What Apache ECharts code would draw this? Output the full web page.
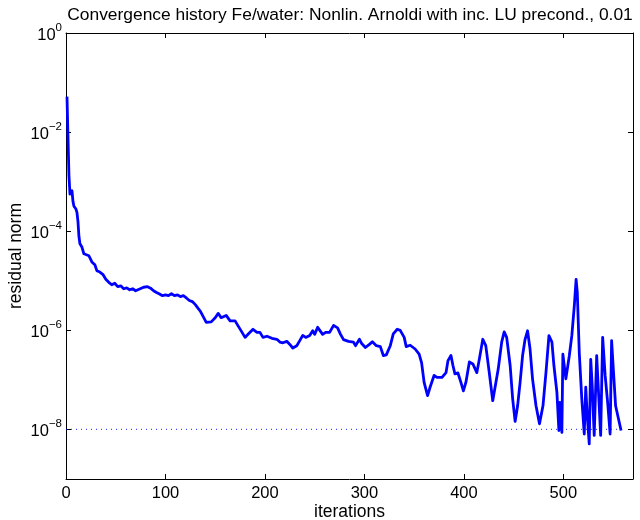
<!DOCTYPE html>
<html>
<head>
<meta charset="utf-8">
<script src="https://cdn.jsdelivr.net/npm/echarts@6/dist/echarts.min.js"></script>
<style>
  html, body { margin: 0; padding: 0; background: #ffffff; }
  #chart { width: 640px; height: 520px; }
</style>
</head>
<body>
<div id="chart"></div>
<script>
// ---- data ----
const chartTitle = 'Convergence history Fe/water: Nonlin. Arnoldi with inc. LU precond., 0.01';
const xAxisName = 'iterations';
const yAxisName = 'residual norm';
const xTickValues = [0, 100, 200, 300, 400, 500];

const iterations = [
  1, 2, 3, 4, 5, 6, 7, 8, 10, 11, 12, 13, 14, 16, 18, 20, 23, 26, 29, 31, 34, 37, 40,
  43, 46, 49, 52, 55, 58, 61, 64, 67, 70, 74, 78, 82, 85, 88, 91, 94, 97, 100,
  103, 106, 109, 112, 115, 118, 121, 124, 127, 130, 133, 135,
  141, 146, 150, 153, 156, 161, 165, 170, 173, 177, 180, 183, 188, 192, 195, 198,
  202, 207, 212, 215, 218, 222, 225, 228, 232, 235, 238, 241, 245, 248, 250, 253,
  255, 258, 261, 265, 269, 273, 276, 279, 284, 289, 291, 295, 297, 301, 305, 308,
  312, 316, 319, 322, 326, 329, 333, 336, 340, 342, 346, 351, 355, 357.5, 360,
  363.5, 366, 370, 373, 378, 382, 384, 387, 389, 391, 394, 397, 399.5, 402, 405.5,
  409, 413, 415.5, 419, 422, 425.5, 429, 431, 434.5, 438, 440.5, 443, 446.5, 449,
  451.5, 454, 456.5, 459, 461.5, 464, 466.5, 469, 472.5, 476, 479.5, 482.5, 485.5,
  488.5, 490.5, 493.5, 495.5, 496.5, 498.5, 499.5, 501, 502.5, 504.5, 506, 508.5,
  511, 512.8, 514, 516, 518.5, 521, 522.5, 524, 526, 527.5, 529, 531, 533.5, 536,
  537.5, 539.5, 542, 544.5, 547, 548.5, 550.5, 552.5, 554.5, 558
];

const residualNorm = [
  5.2e-2, 7.9e-3, 1.3e-3, 5.6e-4, 5.2e-4, 6.6e-4, 4.0e-4, 3.2e-4, 2.8e-4, 2.4e-4, 1.6e-4, 7.9e-5, 5.6e-5, 4.8e-5, 3.5e-5, 3.2e-5, 3.2e-5, 2.4e-5, 2.1e-5, 1.6e-5, 1.5e-5, 1.35e-5, 1.07e-5,
  9.3e-6, 8.3e-6, 8.9e-6, 7.6e-6, 7.9e-6, 6.9e-6, 7.2e-6, 6.6e-6, 6.9e-6, 6.3e-6, 6.8e-6, 7.4e-6, 7.6e-6, 7.1e-6, 6.3e-6, 5.8e-6, 5.4e-6, 5.0e-6, 5.2e-6,
  5.0e-6, 5.5e-6, 5.0e-6, 5.2e-6, 4.8e-6, 5.0e-6, 4.5e-6, 4.0e-6, 3.8e-6, 3.3e-6, 2.75e-6, 2.45e-6,
  1.45e-6, 1.48e-6, 1.8e-6, 2.2e-6, 1.8e-6, 2.0e-6, 1.55e-6, 1.55e-6, 1.23e-6, 9.1e-7, 7.2e-7, 8.3e-7, 1.05e-6, 9.1e-7, 9.1e-7, 7.2e-7,
  7.6e-7, 6.9e-7, 6.6e-7, 5.8e-7, 5.6e-7, 6.0e-7, 5.2e-7, 4.4e-7, 4.9e-7, 6.2e-7, 7.9e-7, 7.2e-7, 7.9e-7, 9.8e-7, 8.3e-7, 1.15e-6,
  1.15e-6, 8.3e-7, 9.1e-7, 9.1e-7, 1.26e-6, 1.12e-6, 8.3e-7, 6.5e-7, 6.0e-7, 5.8e-7, 4.9e-7, 6.6e-7, 5.5e-7, 4.5e-7, 5.2e-7, 5.9e-7,
  4.9e-7, 4.7e-7, 3.1e-7, 3.2e-7, 4.9e-7, 8.5e-7, 1.05e-6, 1.0e-6, 7.2e-7, 4.7e-7, 5.0e-7, 4.2e-7, 3.3e-7, 2.2e-7, 8.9e-8,
  4.8e-8, 7.1e-8, 1.23e-7, 1.12e-7, 1.12e-7, 1.4e-7, 2.45e-7, 3.1e-7, 1.95e-7, 1.32e-7, 1.38e-7, 8.9e-8, 6.0e-8, 8.9e-8, 2.3e-7,
  2.1e-7, 1.4e-7, 2.6e-7, 6.6e-7, 4.9e-7, 1.4e-7, 3.8e-8, 4.0e-8, 1.65e-7, 5.8e-7, 9.3e-7, 7.2e-7, 1.95e-7, 4.2e-8,
  1.45e-8, 3.0e-8, 8.9e-8, 3.1e-7, 6.6e-7, 9.8e-7, 4.2e-7, 1.05e-7, 3.0e-8, 1.3e-8, 3.0e-8, 1.4e-7, 7.8e-7,
  5.8e-7, 1.95e-7, 5.6e-8, 9.5e-9, 3.5e-8, 8.7e-9, 3.3e-7, 3.2e-7, 1.05e-7, 1.12e-7, 3.1e-7, 7.8e-7,
  3.1e-6, 1.07e-5, 5.8e-6, 3.5e-7, 4.2e-8, 8.1e-9, 7.1e-8, 1.9e-8, 5.1e-9, 2.6e-7, 7.6e-8, 7.6e-9, 3.1e-7, 3.0e-8,
  7.6e-9, 7.2e-7, 1.23e-7, 3.5e-8, 8.1e-9, 6.2e-7, 1.32e-7, 3.0e-8, 3.0e-8, 9.5e-9
];

const toleranceIterations = [0, 558];
const toleranceValues = [1e-8, 1e-8];

// ---- chart ----
const FONT = '"Liberation Sans", Arial, Helvetica, sans-serif';
const lineData = iterations.map((it, i) => [it, residualNorm[i]]);
const tolData = toleranceIterations.map((it, i) => [it, toleranceValues[i]]);

function yLabel(v) {
  const e = Math.round(Math.log10(v));
  if (e % 2 !== 0) return '';
  return '{b|10}{s|' + (e === 0 ? '0' : '\u2212' + (-e)) + '}';
}

const chart = echarts.init(document.getElementById('chart'), null, { renderer: 'canvas' });

const axisCommon = {
  axisLine: { show: true, onZero: false, lineStyle: { color: '#000', width: 1 } },
  splitLine: { show: false },
  minorTick: { show: false },
};

chart.setOption({
  animation: false,
  backgroundColor: '#ffffff',
  grid: { left: 66, right: 7, top: 33, bottom: 41, containLabel: false, outerBoundsMode: 'none' },
  graphic: [{
    type: 'text',
    x: 350, y: 15,
    style: {
      text: chartTitle,
      fill: '#000',
      font: '17.4px ' + FONT,
      align: 'center',
      verticalAlign: 'middle'
    }
  }],
  xAxis: [{
    ...axisCommon,
    type: 'value',
    position: 'bottom',
    min: 0, max: 570, interval: 100,
    name: xAxisName,
    nameLocation: 'middle',
    nameGap: 24,
    nameMoveOverlap: false,
    nameTextStyle: { color: '#000', fontSize: 17.5, fontFamily: FONT },
    axisTick: { show: true, inside: true, length: 5, lineStyle: { color: '#000' } },
    axisLabel: {
      color: '#000', fontSize: 16.5, fontFamily: FONT, margin: 6,
      showMaxLabel: false,
      formatter: v => (xTickValues.indexOf(v) >= 0 ? String(v) : '')
    }
  }, {
    ...axisCommon,
    type: 'value',
    position: 'top',
    min: 0, max: 570, interval: 100,
    axisTick: { show: true, inside: true, length: 5, lineStyle: { color: '#000' } },
    axisLabel: { show: false }
  }],
  yAxis: [{
    ...axisCommon,
    type: 'log',
    logBase: 100,
    position: 'left',
    min: 1e-9, max: 1,
    name: yAxisName,
    nameLocation: 'middle',
    nameRotate: 90,
    nameGap: 41,
    nameMoveOverlap: false,
    nameTextStyle: { color: '#000', fontSize: 17.5, fontFamily: FONT },
    axisTick: { show: true, inside: true, length: 5, lineStyle: { color: '#000' } },
    axisLabel: {
      color: '#000', fontFamily: FONT, margin: 4,
      showMinLabel: false,
      padding: [4, 0, 0, 0],
      formatter: yLabel,
      rich: {
        b: { fontSize: 16.5, fontFamily: FONT, color: '#000' },
        s: { fontSize: 11.5, fontFamily: FONT, color: '#000', verticalAlign: 'bottom', padding: [0, 0, 15, 0] }
      }
    }
  }, {
    ...axisCommon,
    type: 'log',
    logBase: 100,
    position: 'right',
    min: 1e-9, max: 1,
    axisTick: { show: true, inside: true, length: 5, lineStyle: { color: '#000' } },
    axisLabel: { show: false }
  }],
  series: [{
    type: 'line',
    name: 'tolerance',
    xAxisIndex: 0, yAxisIndex: 0,
    data: tolData,
    showSymbol: false,
    silent: true,
    lineStyle: { color: 'rgba(0,0,255,0.7)', width: 1.2, type: [1, 4] },
    z: 2
  }, {
    type: 'line',
    name: 'residual',
    xAxisIndex: 0, yAxisIndex: 0,
    data: lineData,
    showSymbol: false,
    silent: true,
    lineStyle: { color: '#0000ff', width: 2.8, join: 'round' },
    z: 3
  }]
});
</script>
</body>
</html>
